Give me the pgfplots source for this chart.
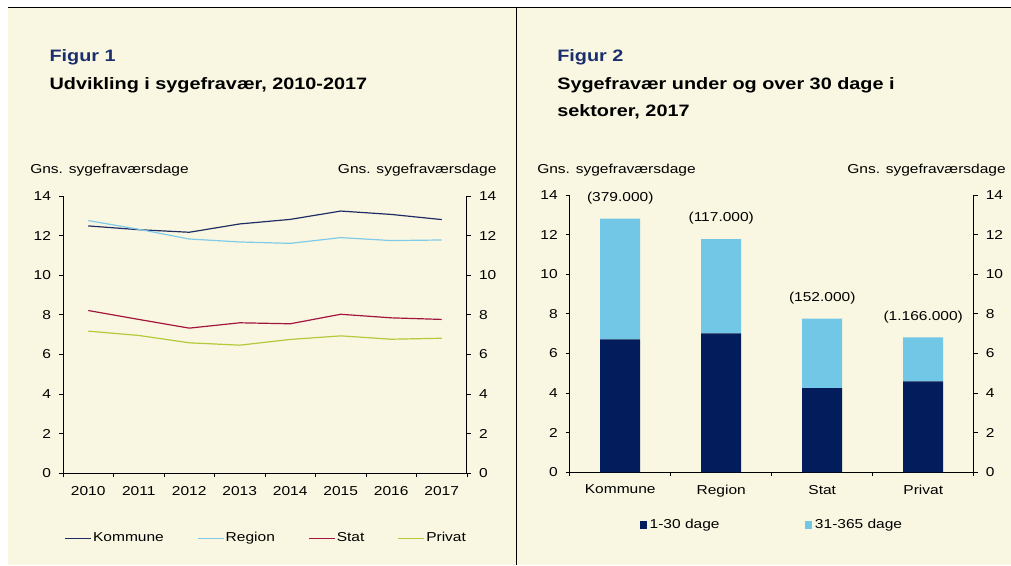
\documentclass[border=0pt]{standalone}
\usepackage{pgfplots}
\pgfplotsset{compat=1.18}
\usepackage{fontspec}
\setmainfont{Liberation Sans}[FakeStretch=1.2]
\definecolor{cream}{RGB}{249,247,225}
\definecolor{titleblue}{RGB}{27,47,110}
\definecolor{kom}{RGB}{31,45,100}
\definecolor{reg}{RGB}{127,203,232}
\definecolor{stat}{RGB}{163,21,63}
\definecolor{priv}{RGB}{179,202,58}
\definecolor{navy}{RGB}{3,28,91}
\definecolor{lblue}{RGB}{114,199,231}
\newcommand{\sm}{\fontsize{9.7}{11.6}\selectfont}
\newcommand{\ti}{\fontsize{12.4}{14}\selectfont\bfseries}
\pgfplotsset{
  base/.style={scale only axis, width=303pt, height=208pt, ymin=0, ymax=14,
    ytick={0,2,...,14}, tick align=outside, major tick length=3pt,
    tick style={black, line width=0.6pt}, axis line style={black, line width=0.75pt},
    every tick label/.append style={font=\sm},
    xticklabel style={yshift=-3pt},
    /pgf/number format/assume math mode=true, clip=false},
  leftax/.style={base, axis x line*=bottom, axis y line*=left, yticklabel style={xshift=-2.5pt}},
  rightax/.style={base, axis x line=none, axis y line*=right, yticklabel style={xshift=2.5pt}}
}
\begin{document}
\begin{tikzpicture}
\useasboundingbox (0,0) rectangle (758.25pt,-423.75pt);
\fill[cream] (6pt,-5.5pt) rectangle (758.25pt,-423.75pt);
\draw[black, line width=0.75pt] (6pt,-5.5pt) -- (758.25pt,-5.5pt);
\draw[black, line width=0.75pt] (387pt,-5.5pt) -- (387pt,-423.75pt);
% titles
\node[anchor=base west, inner sep=0, font=\ti, text=titleblue] at (37pt,-46.3pt) {Figur 1};
\node[anchor=base west, inner sep=0, font=\ti] at (37pt,-67pt) {Udvikling i sygefravær, 2010-2017};
\node[anchor=base west, inner sep=0, font=\ti, text=titleblue] at (417.75pt,-46.3pt) {Figur 2};
\node[anchor=base west, inner sep=0, font=\ti] at (417.75pt,-67pt) {Sygefravær under og over 30 dage i};
\node[anchor=base west, inner sep=0, font=\ti] at (417.75pt,-87.7pt) {sektorer, 2017};
% axis labels
\node[anchor=base west, inner sep=0, font=\sm] at (22.5pt,-130pt) {Gns. sygefraværsdage};
\node[anchor=base east, inner sep=0, font=\sm] at (372.5pt,-130pt) {Gns. sygefraværsdage};
\node[anchor=base west, inner sep=0, font=\sm] at (402.75pt,-130pt) {Gns. sygefraværsdage};
\node[anchor=base east, inner sep=0, font=\sm] at (754.5pt,-130pt) {Gns. sygefraværsdage};

% ---------- Figur 1
\begin{axis}[leftax, at={(47.25pt,-355pt)}, anchor=south west,
  xmin=0, xmax=8, xtick={0,...,8}, x tick label as interval,
  xticklabels={2010,2011,2012,2013,2014,2015,2016,2017},
  legend columns=4, legend cell align=left,
  legend style={at={(axis description cs:0.004,-0.234)}, anchor=west, draw=none, fill=none,
    inner sep=0pt, outer sep=0pt, font=\sm, nodes={inner sep=1pt},
    /tikz/every even column/.append style={column sep=24pt}},
  legend image code/.code={\draw[#1, line width=0.9pt] (0pt,0pt) -- (19.5pt,0pt);}
]
\addplot[kom, line width=0.9pt] coordinates {(0.5,12.49) (1.5,12.30) (2.5,12.17) (3.5,12.59) (4.5,12.82) (5.5,13.24) (6.5,13.07) (7.5,12.81)};
\addlegendentry{Kommune}
\addplot[reg, line width=0.9pt] coordinates {(0.5,12.76) (1.5,12.32) (2.5,11.83) (3.5,11.68) (4.5,11.61) (5.5,11.90) (6.5,11.75) (7.5,11.78)};
\addlegendentry{Region}
\addplot[stat, line width=0.9pt] coordinates {(0.5,8.22) (1.5,7.77) (2.5,7.33) (3.5,7.60) (4.5,7.55) (5.5,8.03) (6.5,7.85) (7.5,7.77)};
\addlegendentry{Stat}
\addplot[priv, line width=0.9pt] coordinates {(0.5,7.18) (1.5,6.96) (2.5,6.59) (3.5,6.47) (4.5,6.76) (5.5,6.94) (6.5,6.77) (7.5,6.82)};
\addlegendentry{Privat}
\end{axis}
\begin{axis}[rightax, at={(47.25pt,-355pt)}, anchor=south west, xmin=0, xmax=8]
\addplot[draw=none] coordinates {(0,0)};
\end{axis}

% ---------- Figur 2
\begin{axis}[leftax, at={(427.3pt,-354.2pt)}, anchor=south west,
  ybar stacked, bar width=30pt,
  xmin=0, xmax=4, xtick={0,...,4}, x tick label as interval,
  xticklabels={Kommune,Region,Stat,Privat},
  legend columns=2, legend cell align=left,
  legend style={at={(axis description cs:0.173,-0.19)}, anchor=west, draw=none, fill=none,
    inner sep=0pt, outer sep=0pt, font=\sm, nodes={inner sep=1pt},
    /tikz/every odd column/.append style={column sep=1.3pt},
    /tikz/every even column/.append style={column sep=63pt}},
  legend image code/.code={\fill[#1, draw=none] (0pt,-3pt) rectangle (5.25pt,3pt);}
]
\addplot[fill=navy, draw=none] coordinates {(0.5,6.71) (1.5,7.01) (2.5,4.25) (3.5,4.59)};
\addlegendentry{1-30 dage}
\addplot[fill=lblue, draw=none] coordinates {(0.5,6.09) (1.5,4.76) (2.5,3.51) (3.5,2.22)};
\addlegendentry{31-365 dage}
\end{axis}
\begin{axis}[rightax, at={(427.3pt,-354.2pt)}, anchor=south west, xmin=0, xmax=4]
\addplot[draw=none, mark=none, nodes near coords, point meta=explicit symbolic,
  every node near coord/.append style={font=\sm, text=black, anchor=south, yshift=7.3pt}]
  table[x=x, y=y, meta=lab] {
x y lab
0.5 12.80 (379.000)
1.5 11.77 (117.000)
2.5 7.76 (152.000)
3.5 6.81 (1.166.000)
};
\end{axis}
\end{tikzpicture}
\end{document}
